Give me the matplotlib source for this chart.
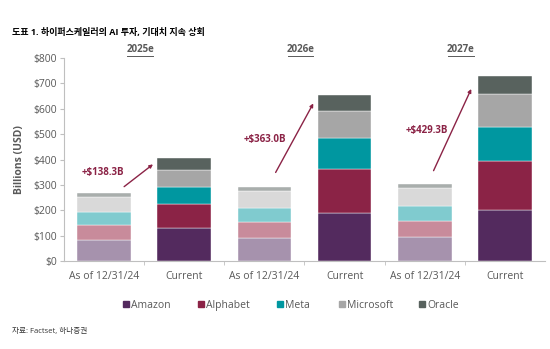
import numpy as np
import matplotlib
matplotlib.use('Agg')
import matplotlib.pyplot as plt
from matplotlib.patches import Rectangle

plt.rcParams['font.family'] = ['Open Sans', 'Noto Sans CJK KR', 'DejaVu Sans']

# 데이터 (Billions USD)
bar_labels = ['As of 12/31/24', 'Current', 'As of 12/31/24', 'Current', 'As of 12/31/24', 'Current']
years = ['2025e', '2026e', '2027e']
companies = ['Amazon', 'Alphabet', 'Meta', 'Microsoft', 'Oracle']
amazon = [83, 131, 89, 190, 93, 202]
alphabet = [59, 92, 63, 172, 65, 192]
meta = [50, 70, 56, 124, 59, 135]
microsoft = [61, 64, 68, 105, 69, 128]
oracle = [16, 50, 17, 63, 16, 74]
increase = ['+$138.3B', '+$363.0B', '+$429.3B']

dark_colors = ['#532a5e', '#8b2346', '#0097a0', '#a6a6a6', '#58625e']
light_colors = ['#a692ad', '#c88b9b', '#80cbcf', '#d9d9d9', '#a9aeac']
accent = '#8b2346'
grey = '#595959'

W, H = 550, 349
fig = plt.figure(figsize=(5.5, 3.49), dpi=100)
ax = fig.add_axes([64 / W, 88 / H, 481 / W, 203 / H])

x = np.arange(len(bar_labels))
series = [amazon, alphabet, meta, microsoft, oracle]
bottom = np.zeros(len(x))
for i, vals in enumerate(series):
    vals = np.array(vals)
    cols = [light_colors[i] if j % 2 == 0 else dark_colors[i] for j in range(len(x))]
    ax.bar(x, vals, width=0.67, bottom=bottom, color=cols, edgecolor='white', linewidth=0.3)
    bottom += vals

# 증가분 화살표
arrow_start = [(0.25, 293), (2.14, 349), (4.11, 356)]
arrow_end = [(0.61, 381), (2.61, 621), (4.58, 678)]
for s, e in zip(arrow_start, arrow_end):
    ax.annotate('', xy=e, xytext=s,
                arrowprops=dict(arrowstyle='-|>', color=accent, lw=1.0, mutation_scale=5,
                                shrinkA=0, shrinkB=0))
label_pos = [(-0.02, 347), (2.01, 479), (4.03, 515)]
for k, (lx, ly) in enumerate(label_pos):
    ax.text(lx, ly, increase[k], color=accent, fontsize=7, fontweight='bold', ha='center', va='center')

# 연도 제목
xt = ax.get_xaxis_transform()
for k, yr in enumerate(years):
    cx = 2 * k + 0.45
    ax.text(cx, 1.04, yr, transform=xt, ha='center', va='center',
            fontsize=7, fontweight='bold', color=grey)
    ax.plot([cx - 0.16, cx + 0.16], [1.012, 1.012], transform=xt,
            color=grey, lw=0.7, clip_on=False)

ax.set_xlim(-0.5, 5.5)
ax.set_ylim(0, 800)
ax.set_yticks(np.arange(0, 801, 100))
ax.set_yticklabels(['$%d' % v for v in range(0, 801, 100)], fontsize=7.5, color=grey)
ax.set_xticks(x)
ax.set_xticklabels(bar_labels, fontsize=7.5, color=grey)
ax.set_xticks(np.arange(0.5, 5, 1), minor=True)
ax.tick_params(axis='x', which='major', length=0, pad=7)
ax.tick_params(axis='x', which='minor', length=3, color='#bfbfbf')
ax.tick_params(axis='y', length=3, color='#bfbfbf', pad=2)
for s in ['top', 'right']:
    ax.spines[s].set_visible(False)
for s in ['left', 'bottom']:
    ax.spines[s].set_color('#bfbfbf')
    ax.spines[s].set_linewidth(0.8)
ax.set_ylabel('Billions (USD)', fontsize=7.5, fontweight='bold', color=grey, labelpad=6)

# 범례 (수동 배치)
legend_x = [123, 198, 277, 339, 419]
ly = 304
for lx, name, c in zip(legend_x, companies, dark_colors):
    fig.add_artist(Rectangle((lx / W, 1 - (ly + 3) / H), 6 / W, 6 / H, color=c, transform=fig.transFigure))
    fig.text((lx + 8) / W, 1 - (ly + 3.7) / H, name, fontsize=7.5, color=grey, va='baseline', ha='left')

fig.text(12 / W, 1 - 33 / H, '도표 1. 하이퍼스케일러의 AI 투자, 기대치 지속 상회', fontsize=6.5,
         fontweight='bold', va='center', ha='left', color='black')
fig.text(12 / W, 1 - 332 / H, '자료: Factset, 하나증권', fontsize=5.5, va='center', ha='left', color='#333333')

fig.savefig('out.png', dpi=100)
